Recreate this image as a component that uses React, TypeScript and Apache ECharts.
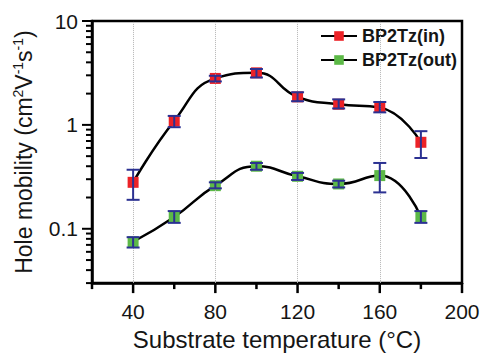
import React, { useEffect, useRef } from 'react';
import * as echarts from 'echarts';

const temperatures = [40, 60, 80, 100, 120, 140, 160, 180];
const inMobility = [0.28, 1.09, 2.8, 3.17, 1.86, 1.58, 1.47, 0.68];
const inLow = [0.19, 0.95, 2.62, 2.86, 1.69, 1.44, 1.32, 0.48];
const inHigh = [0.37, 1.22, 2.97, 3.45, 2.06, 1.76, 1.66, 0.87];
const outMobility = [0.075, 0.13, 0.26, 0.4, 0.32, 0.27, 0.325, 0.13];
const outLow = [0.066, 0.114, 0.245, 0.37, 0.295, 0.25, 0.224, 0.114];
const outHigh = [0.083, 0.148, 0.28, 0.43, 0.345, 0.29, 0.43, 0.148];

const xMajorTicks = [40, 80, 120, 160, 200];
const xMinorTicks = [20, 60, 100, 140, 180];
const gridTemps = [40, 80, 120, 160];
const yMajorTicks = [0.1, 1, 10];
const yMinorTicks = [
  0.03, 0.04, 0.05, 0.06, 0.07, 0.08, 0.09,
  0.2, 0.3, 0.4, 0.5, 0.6, 0.7, 0.8, 0.9,
  2, 3, 4, 5, 6, 7, 8, 9,
];

const X_MIN = 20;
const X_MAX = 200;
const Y_MIN = 0.03;
const Y_MAX = 10;

const FONT = 'Liberation Sans, Arial, sans-serif';
const TEXT = '#151515';
const RED = '#ec2227';
const GREEN = '#5cb947';
const NAVY = '#2b3192';

export default function App() {
  const ref = useRef<HTMLDivElement>(null);

  useEffect(() => {
    if (!ref.current) return;
    const chart = echarts.init(ref.current, undefined, { renderer: 'svg' });

    const errorSeries = (name: string, low: number[], high: number[]) => ({
      type: 'custom',
      name,
      coordinateSystem: 'cartesian2d',
      clip: false,
      silent: true,
      z: 5,
      data: temperatures.map((t, i) => [t, low[i], high[i]]),
      renderItem: (_p: any, api: any) => {
        const x = api.value(0);
        const lo = api.coord([x, api.value(1)]);
        const hi = api.coord([x, api.value(2)]);
        const hw = 6.5;
        const style = { stroke: NAVY, lineWidth: 2 };
        return {
          type: 'group',
          children: [
            { type: 'line', shape: { x1: lo[0], y1: lo[1], x2: hi[0], y2: hi[1] }, style },
            { type: 'line', shape: { x1: lo[0] - hw, y1: lo[1], x2: lo[0] + hw, y2: lo[1] }, style },
            { type: 'line', shape: { x1: hi[0] - hw, y1: hi[1], x2: hi[0] + hw, y2: hi[1] }, style },
          ],
        };
      },
    });

    const xTickData = [
      ...xMajorTicks.map((v) => [v, Y_MIN, 10]),
      ...xMinorTicks.map((v) => [v, Y_MIN, 6]),
    ];
    const yTickData = [
      ...yMajorTicks.map((v) => [X_MIN, v, 10]),
      ...yMinorTicks.map((v) => [X_MIN, v, 6]),
    ];

    const option: any = {
      animation: false,
      grid: {
        left: 92,
        right: 22,
        top: 21,
        bottom: 63,
        show: true,
        borderColor: '#000',
        borderWidth: 2.5,
        backgroundColor: 'transparent',
      },
      legend: {
        data: ['BP2Tz(in)', 'BP2Tz(out)'],
        orient: 'vertical',
        left: 315,
        top: 22,
        itemWidth: 36,
        itemHeight: 12,
        itemGap: 6,
        textStyle: { fontFamily: FONT, fontSize: 18, fontWeight: 'bold', color: TEXT },
      },
      xAxis: {
        type: 'value',
        min: X_MIN,
        max: X_MAX,
        interval: 20,
        axisLine: { show: true, lineStyle: { color: '#000', width: 2.5 } },
        axisTick: { show: false },
        splitLine: { show: false },
        axisLabel: {
          fontFamily: FONT,
          fontSize: 21,
          color: TEXT,
          margin: 18,
          formatter: (v: number) => (v % 40 === 0 ? String(v) : ''),
        },
        name: 'Substrate temperature (°C)',
        nameLocation: 'middle',
        nameGap: 42,
        nameTextStyle: { fontFamily: FONT, fontSize: 24, color: TEXT },
      },
      yAxis: {
        type: 'log',
        logBase: 10,
        min: Y_MIN,
        max: Y_MAX,
        axisLine: { show: true, lineStyle: { color: '#000', width: 2.5 } },
        axisTick: { show: false },
        splitLine: { show: false },
        axisLabel: {
          fontFamily: FONT,
          fontSize: 21,
          color: TEXT,
          margin: 14,
          showMinLabel: false,
          formatter: (v: number) => {
            const l = Math.log10(v);
            if (Math.abs(l - Math.round(l)) > 1e-6) return '';
            const p = Math.round(l);
            return p >= 0 ? String(Math.pow(10, p)) : String(Number(Math.pow(10, p).toFixed(-p)));
          },
        },
        name: '{a|Hole mobility (cm}{s|2}{a|V}{s|-1}{a|s}{s|-1}{a|)}',
        nameLocation: 'middle',
        nameGap: 56,
        nameRotate: 90,
        nameTextStyle: {
          fontFamily: FONT,
          color: TEXT,
          rich: {
            a: { fontFamily: FONT, fontSize: 23, color: TEXT, lineHeight: 25 },
            s: { fontFamily: FONT, fontSize: 14, color: TEXT, verticalAlign: 'top', lineHeight: 15 },
          },
        },
      },
      series: [
        {
          type: 'line',
          name: 'grid',
          data: [],
          silent: true,
          z: 1,
          markLine: {
            silent: true,
            symbol: 'none',
            label: { show: false },
            lineStyle: { type: 'dotted', color: '#b5b5b5', width: 1 },
            data: gridTemps.map((t) => ({ xAxis: t })),
          },
        },
        {
          type: 'line',
          name: 'BP2Tz(in)',
          data: temperatures.map((t, i) => [t, inMobility[i]]),
          smooth: true,
          symbol: 'rect',
          symbolSize: 11,
          z: 3,
          lineStyle: { color: '#000', width: 2.5 },
          itemStyle: { color: RED },
        },
        {
          type: 'line',
          name: 'BP2Tz(out)',
          data: temperatures.map((t, i) => [t, outMobility[i]]),
          smooth: true,
          symbol: 'rect',
          symbolSize: 11,
          z: 3,
          lineStyle: { color: '#000', width: 2.5 },
          itemStyle: { color: GREEN },
        },
        errorSeries('inErr', inLow, inHigh),
        errorSeries('outErr', outLow, outHigh),
        {
          type: 'custom',
          name: 'xTicks',
          coordinateSystem: 'cartesian2d',
          clip: false,
          silent: true,
          z: 6,
          data: xTickData,
          renderItem: (_p: any, api: any) => {
            const p = api.coord([api.value(0), api.value(1)]);
            const len = api.value(2);
            return {
              type: 'line',
              shape: { x1: p[0], y1: p[1], x2: p[0], y2: p[1] + len },
              style: { stroke: '#000', lineWidth: 2.5 },
            };
          },
        },
        {
          type: 'custom',
          name: 'yTicks',
          coordinateSystem: 'cartesian2d',
          clip: false,
          silent: true,
          z: 6,
          data: yTickData,
          renderItem: (_p: any, api: any) => {
            const p = api.coord([api.value(0), api.value(1)]);
            const len = api.value(2);
            return {
              type: 'line',
              shape: { x1: p[0] - len, y1: p[1], x2: p[0], y2: p[1] },
              style: { stroke: '#000', lineWidth: 2 },
            };
          },
        },
      ],
    };

    chart.setOption(option);
    return () => chart.dispose();
  }, []);

  return (
    <div
      ref={ref}
      style={{ position: 'fixed', left: 0, top: 0, width: 484, height: 356, background: '#fff' }}
    />
  );
}
